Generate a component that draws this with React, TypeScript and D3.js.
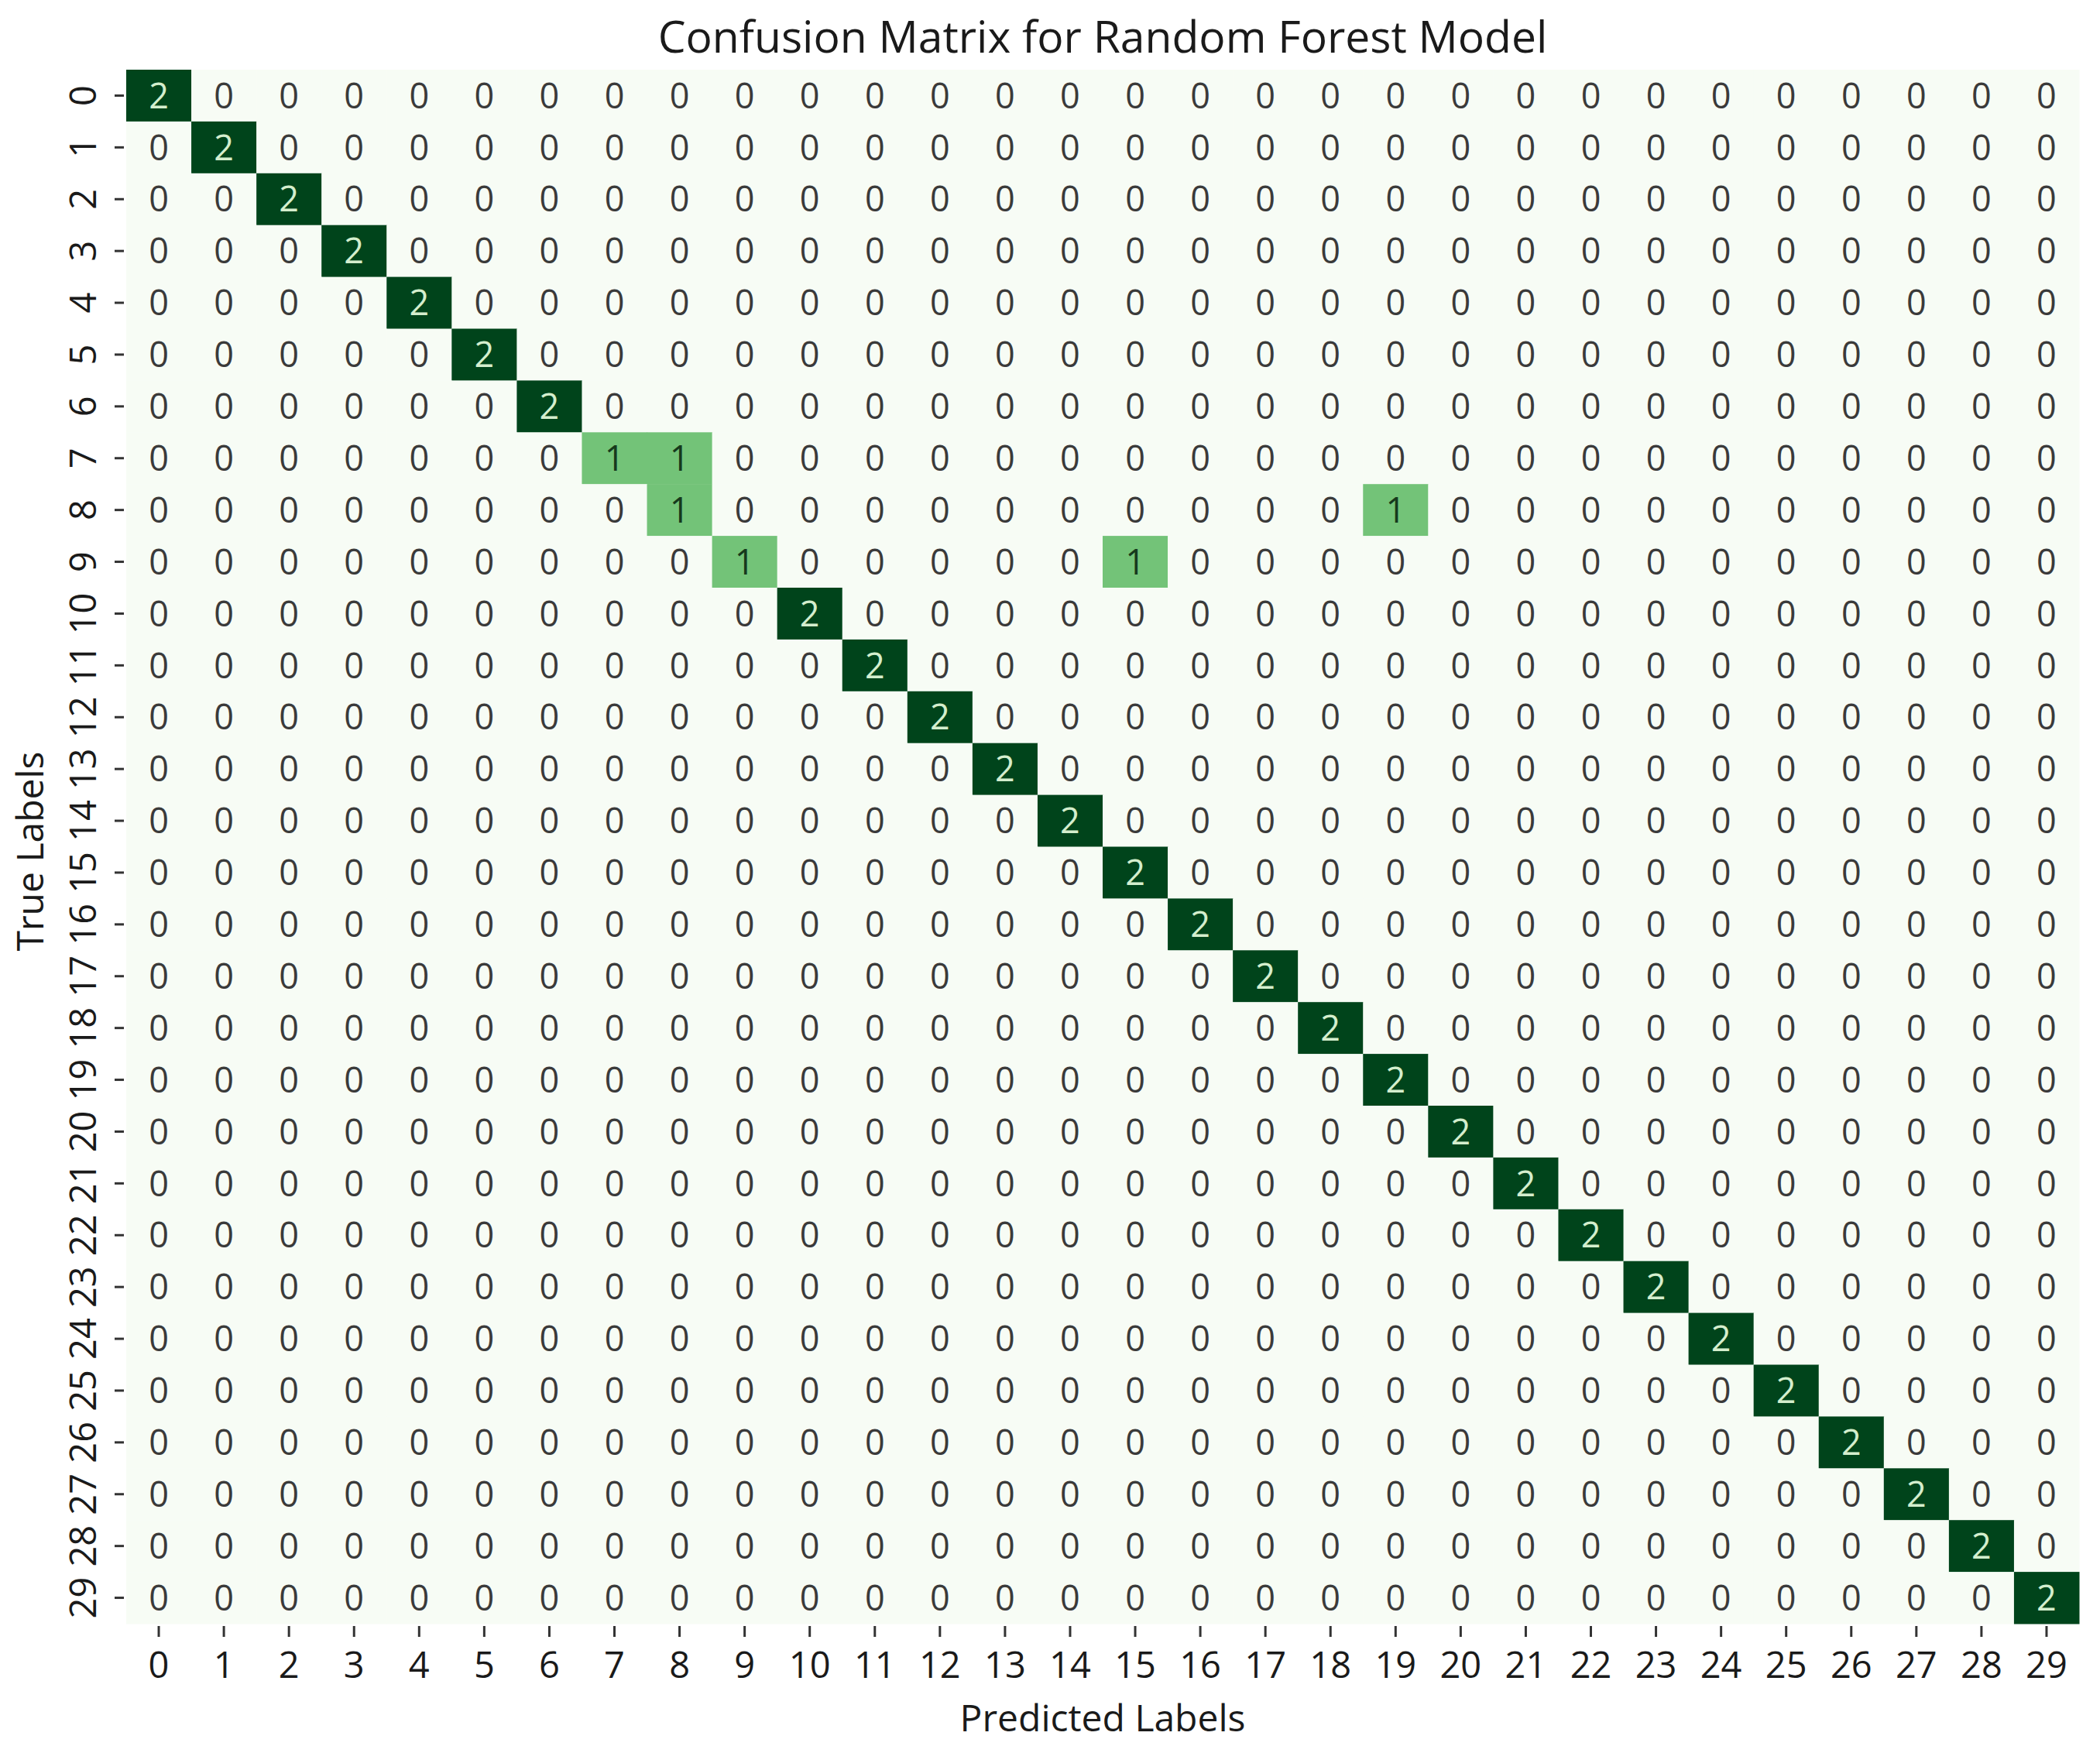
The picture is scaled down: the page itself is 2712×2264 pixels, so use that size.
import React from "react";
import * as d3 from "d3";

const labels: string[] = Array.from({ length: 30 }, (_, i) => String(i));

// Confusion matrix values (rows = true, cols = predicted)
const diagonalCounts: number[] = [
  2, 2, 2, 2, 2, 2, 2, 1, 1, 1, 2, 2, 2, 2, 2, 2, 2, 2, 2, 2, 2, 2, 2, 2, 2, 2, 2, 2, 2, 2,
];
const offDiagonal: { row: number; col: number; value: number }[] = [
  { row: 7, col: 8, value: 1 },
  { row: 8, col: 19, value: 1 },
  { row: 9, col: 15, value: 1 },
];

const title = "Confusion Matrix for Random Forest Model";
const xTitle = "Predicted Labels";
const yTitle = "True Labels";

const W = 2712;
const H = 2264;
const left = 163;
const right = 2685;
const top = 90;
const bottom = 2097;
const FONT = "'Open Sans', 'DejaVu Sans', sans-serif";

export default function App() {
  const matrix: number[][] = labels.map((_, r) =>
    labels.map((_, c) => (r === c ? diagonalCounts[r] : 0))
  );
  offDiagonal.forEach((d) => {
    matrix[d.row][d.col] = d.value;
  });

  const x = d3.scaleBand<string>().domain(labels).range([left, right]);
  const y = d3.scaleBand<string>().domain(labels).range([top, bottom]);
  const color = d3.scaleSequential(d3.interpolateGreens).domain([0, 2]);
  const textColor = (v: number) => (v >= 2 ? "#d4eecd" : v >= 1 ? "#16391c" : "#3a3a3a");

  const cells: React.ReactNode[] = [];
  matrix.forEach((row, r) =>
    row.forEach((v, c) => {
      const cx = x(labels[c])!;
      const cy = y(labels[r])!;
      cells.push(
        <rect
          key={`r${r}-${c}`}
          x={cx}
          y={cy}
          width={x.bandwidth() + 0.5}
          height={y.bandwidth() + 0.5}
          fill={color(v)}
        />
      );
    })
  );
  const annots: React.ReactNode[] = [];
  matrix.forEach((row, r) =>
    row.forEach((v, c) => {
      annots.push(
        <text
          key={`t${r}-${c}`}
          x={x(labels[c])! + x.bandwidth() / 2}
          y={y(labels[r])! + y.bandwidth() / 2}
          dy="0.36em"
          textAnchor="middle"
          fontSize={45}
          fontFamily={FONT}
          fill={textColor(v)}
        >
          {v}
        </text>
      );
    })
  );

  return (
    <svg
      width={W}
      height={H}
      style={{ position: "absolute", left: 0, top: 0, display: "block", background: "#ffffff" }}
    >
      <rect x={0} y={0} width={W} height={H} fill="#ffffff" />
      {cells}
      {annots}
      {labels.map((l) => {
        const cx = x(l)! + x.bandwidth() / 2;
        return (
          <g key={`xt${l}`}>
            <line x1={cx} x2={cx} y1={bottom + 3} y2={bottom + 17} stroke="#333" strokeWidth={3} />
            <text
              x={cx}
              y={2167}
              textAnchor="middle"
              fontSize={47}
              fontFamily={FONT}
              fill="#1a1a1a"
            >
              {l}
            </text>
          </g>
        );
      })}
      {labels.map((l) => {
        const cy = y(l)! + y.bandwidth() / 2;
        return (
          <g key={`yt${l}`}>
            <line x1={left - 15} x2={left - 3} y1={cy} y2={cy} stroke="#333" strokeWidth={3} />
            <text
              transform={`translate(124,${cy}) rotate(-90)`}
              textAnchor="middle"
              fontSize={47}
              fontFamily={FONT}
              fill="#1a1a1a"
            >
              {l}
            </text>
          </g>
        );
      })}
      <text
        x={(left + right) / 2}
        y={68}
        textAnchor="middle"
        fontSize={57}
        fontFamily={FONT}
        fill="#1a1a1a"
      >
        {title}
      </text>
      <text
        x={(left + right) / 2}
        y={2236}
        textAnchor="middle"
        fontSize={48}
        fontFamily={FONT}
        fill="#1a1a1a"
      >
        {xTitle}
      </text>
      <text
        transform={`translate(56,${(top + bottom) / 2 + 6}) rotate(-90)`}
        textAnchor="middle"
        fontSize={48}
        fontFamily={FONT}
        fill="#1a1a1a"
      >
        {yTitle}
      </text>
    </svg>
  );
}
